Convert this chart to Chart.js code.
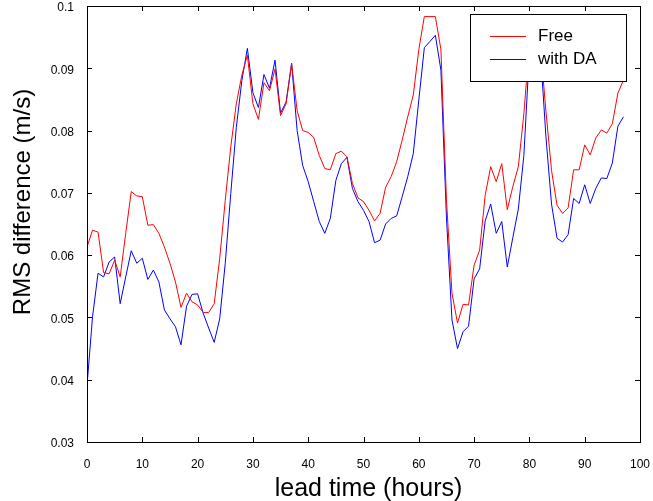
<!DOCTYPE html>
<html>
<head>
<meta charset="utf-8">
<script src="https://cdn.jsdelivr.net/npm/chart.js@4/dist/chart.umd.min.js"></script>
<style>
  html, body { margin: 0; padding: 0; background: #fff; }
  #wrap { width: 653px; height: 501px; }
</style>
</head>
<body>
<div id="wrap"><canvas id="rmsChart" width="653" height="501"></canvas></div>
<script>
// lead time in hours (one value per hour)
const leadHours = [
  0, 1, 2, 3, 4, 5, 6, 7, 8, 9, 10, 11, 12, 13, 14, 15, 16, 17, 18, 19,
  20, 21, 22, 23, 24, 25, 26, 27, 28, 29, 30, 31, 32, 33, 34, 35, 36, 37, 38, 39,
  40, 41, 42, 43, 44, 45, 46, 47, 48, 49, 50, 51, 52, 53, 54, 55, 56, 57, 58, 59,
  60, 61, 62, 63, 64, 65, 66, 67, 68, 69, 70, 71, 72, 73, 74, 75, 76, 77, 78, 79,
  80, 81, 82, 83, 84, 85, 86, 87, 88, 89, 90, 91, 92, 93, 94, 95, 96, 97
];

// RMS difference (m/s), free run
const freeRms = [
  0.0613, 0.0640, 0.0637, 0.0572, 0.0570, 0.0592, 0.0565, 0.0635, 0.0702, 0.0695,
  0.0694, 0.0648, 0.0649, 0.0635, 0.0613, 0.0587, 0.0557, 0.0516, 0.0539, 0.0525,
  0.0520, 0.0508, 0.0508, 0.0522, 0.0595, 0.0688, 0.0774, 0.0843, 0.0889, 0.0921,
  0.0843, 0.0818, 0.0877, 0.0864, 0.0899, 0.0824, 0.0843, 0.0907, 0.0832, 0.0800,
  0.0797, 0.0789, 0.0760, 0.0739, 0.0737, 0.0763, 0.0767, 0.0758, 0.0715, 0.0692,
  0.0686, 0.0672, 0.0655, 0.0667, 0.0709, 0.0726, 0.0750, 0.0785, 0.0822, 0.0857,
  0.0930, 0.0983, 0.0983, 0.0983, 0.0930, 0.0689, 0.0539, 0.0491, 0.0521, 0.0520,
  0.0584, 0.0608, 0.0696, 0.0742, 0.0718, 0.0747, 0.0673, 0.0710, 0.0742, 0.0827,
  0.0940, 0.0970, 0.0935, 0.0830, 0.0736, 0.0680, 0.0667, 0.0676, 0.0737, 0.0737,
  0.0777, 0.0761, 0.0788, 0.0801, 0.0796, 0.0811, 0.0860, 0.0881
];

// RMS difference (m/s), with data assimilation
const daRms = [
  0.0390, 0.0501, 0.0571, 0.0565, 0.0589, 0.0597, 0.0522, 0.0565, 0.0607, 0.0587,
  0.0595, 0.0561, 0.0576, 0.0557, 0.0512, 0.0498, 0.0485, 0.0456, 0.0518, 0.0537,
  0.0538, 0.0507, 0.0483, 0.0460, 0.0498, 0.0587, 0.0699, 0.0805, 0.0880, 0.0932,
  0.0861, 0.0837, 0.0890, 0.0868, 0.0913, 0.0828, 0.0846, 0.0908, 0.0800, 0.0744,
  0.0718, 0.0686, 0.0654, 0.0635, 0.0659, 0.0720, 0.0747, 0.0757, 0.0707, 0.0686,
  0.0672, 0.0654, 0.0620, 0.0624, 0.0650, 0.0659, 0.0663, 0.0694, 0.0726, 0.0763,
  0.0849, 0.0933, 0.0943, 0.0953, 0.0897, 0.0661, 0.0496, 0.0450, 0.0477, 0.0486,
  0.0562, 0.0578, 0.0655, 0.0682, 0.0635, 0.0654, 0.0581, 0.0628, 0.0674, 0.0760,
  0.0925, 0.0960, 0.0925, 0.0789, 0.0682, 0.0627, 0.0621, 0.0633, 0.0691, 0.0683,
  0.0713, 0.0683, 0.0707, 0.0724, 0.0723, 0.0748, 0.0807, 0.0822
];

const seriesNames = ['Free', 'with DA'];
const seriesColors = ['#ff0000', '#0000ff'];
const xTitle = 'lead time (hours)';
const yTitle = 'RMS difference (m/s)';

const FONT = '"Liberation Sans", Arial, Helvetica, sans-serif';
Chart.defaults.font.family = FONT;
Chart.defaults.color = '#000';

// legend box drawn on top of the lines (white fill, black frame)
const boxLegend = {
  id: 'boxLegend',
  afterDatasetsDraw(chart) {
    const { ctx, chartArea } = chart;
    const w = 156, h = 67;
    const x = chartArea.right - 14 - w;
    const y = chartArea.top + 8;
    ctx.save();
    ctx.fillStyle = '#fff';
    ctx.fillRect(x, y, w, h);
    ctx.strokeStyle = '#000';
    ctx.lineWidth = 1;
    ctx.strokeRect(Math.round(x) + 0.5, Math.round(y) + 0.5, w, h);
    ctx.font = '17px ' + FONT;
    ctx.textBaseline = 'middle';
    ctx.fillStyle = '#000';
    seriesNames.forEach((name, i) => {
      const ly = Math.round(y + 22 + i * 22.5) + 0.5;
      ctx.strokeStyle = seriesColors[i];
      ctx.beginPath();
      ctx.moveTo(x + 20, ly);
      ctx.lineTo(x + 56, ly);
      ctx.stroke();
      ctx.fillText(name, x + 68, ly);
    });
    ctx.restore();
  }
};

// frame around the plot with inward ticks on all four sides, plus axis titles
const frameTicks = {
  id: 'frameTicks',
  afterDraw(chart) {
    const { ctx, chartArea, scales } = chart;
    const { left, right, top, bottom } = chartArea;
    const len = 5;
    ctx.save();
    ctx.strokeStyle = '#000';
    ctx.lineWidth = 1;
    ctx.strokeRect(Math.round(left) + 0.5, Math.round(top) + 0.5,
      Math.round(right - left), Math.round(bottom - top));
    ctx.beginPath();
    scales.x.ticks.forEach(t => {
      const px = Math.round(scales.x.getPixelForValue(t.value)) + 0.5;
      ctx.moveTo(px, bottom); ctx.lineTo(px, bottom - len);
      ctx.moveTo(px, top); ctx.lineTo(px, top + len);
    });
    scales.y.ticks.forEach(t => {
      const py = Math.round(scales.y.getPixelForValue(t.value)) + 0.5;
      ctx.moveTo(left, py); ctx.lineTo(left + len, py);
      ctx.moveTo(right, py); ctx.lineTo(right - len, py);
    });
    ctx.stroke();

    // axis titles
    ctx.fillStyle = '#000';
    ctx.textAlign = 'center';
    ctx.textBaseline = 'alphabetic';
    ctx.font = '25px ' + FONT;
    ctx.fillText(xTitle, (left + right) / 2 + 5, chart.height - 5);
    ctx.translate(30, (top + bottom) / 2 - 22);
    ctx.rotate(-Math.PI / 2);
    ctx.font = '24px ' + FONT;
    ctx.fillText(yTitle, 0, 0);
    ctx.restore();
  }
};

new Chart(document.getElementById('rmsChart'), {
  type: 'line',
  data: {
    labels: leadHours,
    datasets: [freeRms, daRms].map((values, i) => ({
      label: seriesNames[i],
      data: values,
      borderColor: seriesColors[i],
      borderWidth: 1,
      pointRadius: 0,
      tension: 0,
      fill: false
    }))
  },
  options: {
    responsive: false,
    animation: false,
    layout: { padding: { top: 6, right: 13, bottom: 0, left: 0 } },
    plugins: {
      legend: { display: false },
      tooltip: { enabled: false }
    },
    scales: {
      x: {
        type: 'linear',
        min: 0,
        max: 100,
        grid: { display: false },
        border: { display: false },
        ticks: { stepSize: 10, font: { size: 12 }, padding: 7, maxRotation: 0 },
        afterFit(scale) {
          scale.height = 59;
          scale.paddingLeft = 0;
          scale.paddingRight = 0;
        }
      },
      y: {
        min: 0.03,
        max: 0.1,
        grid: { display: false },
        border: { display: false },
        ticks: {
          stepSize: 0.01,
          font: { size: 12 },
          padding: 5,
          labelOffset: 2,
          callback: v => String(+v.toFixed(2))
        },
        afterFit(scale) {
          scale.width = 87;
          scale.paddingTop = 0;
          scale.paddingBottom = 0;
        }
      }
    }
  },
  plugins: [boxLegend, frameTicks]
});
</script>
</body>
</html>
